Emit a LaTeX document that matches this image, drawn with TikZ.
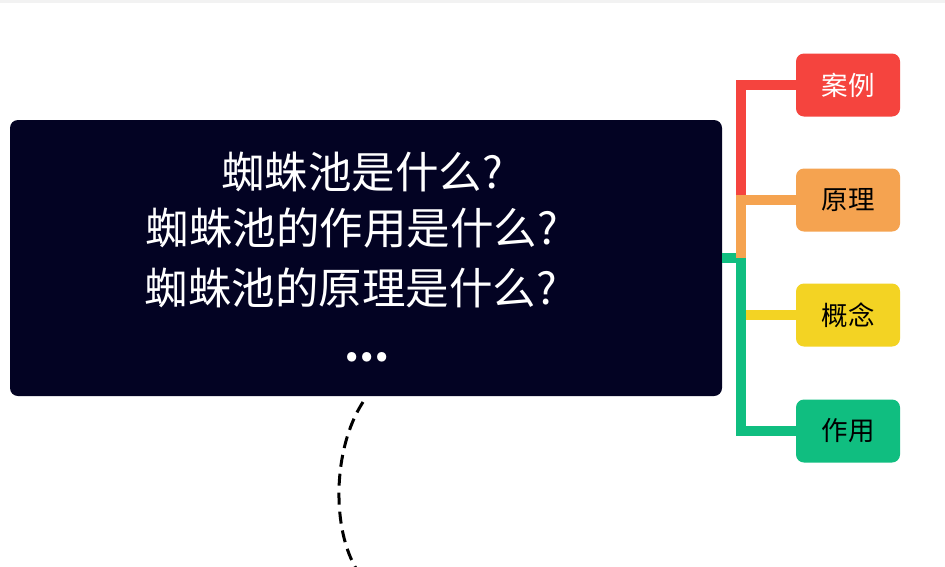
\documentclass[tikz,border=0pt]{standalone}
\usepackage{fontspec}
\setmainfont{Noto Sans CJK SC}
\definecolor{darkbg}{HTML}{030323}
\definecolor{cred}{HTML}{F5443E}
\definecolor{corange}{HTML}{F5A350}
\definecolor{cyellow}{HTML}{F3D323}
\definecolor{cgreen}{HTML}{10BE80}
\definecolor{topgray}{HTML}{F2F2F2}
\begin{document}
\begin{tikzpicture}[x=1pt,y=-1pt,
  leaf/.style={rounded corners=8pt, minimum width=104pt, minimum height=63pt, inner sep=0pt,
    font=\fontsize{26.5}{30}\selectfont},
  qline/.style={anchor=base, text=white, inner sep=0pt, font=\fontsize{43.5}{50}\selectfont},
  branch/.style={line width=10.5pt, line cap=butt, line join=miter}]
\useasboundingbox (0,0) rectangle (945,566);
\fill[white] (0,0) rectangle (945,566);
\fill[topgray] (0,0) rectangle (945,3);
% root box
\node[fill=darkbg, rounded corners=8pt, minimum width=712pt, minimum height=276pt, inner sep=0pt] (root) at (366,258) {};
\node[qline] (l1) at (362,188) {蜘蛛池是什么?};
\node[qline] (l2) at (352,244) {蜘蛛池的作用是什么?};
\node[qline] (l3) at (351,304) {蜘蛛池的原理是什么?};
\node[qline, font=\fontsize{43.5}{50}\selectfont\bfseries] (l4) at (367,361) {...};
% leaves
\node[leaf, fill=cred, text=white] (a) at (848,85) {案例};
\node[leaf, fill=corange, text=black] (b) at (848,200) {原理};
\node[leaf, fill=cyellow, text=black] (c) at (848,315) {概念};
\node[leaf, fill=cgreen, text=black] (d) at (848,431) {作用};
% branches
\coordinate (j) at (741,258);
\draw[branch, cred] (j) |- (a.west);
\draw[branch, cyellow] (j) |- (c.west);
\draw[branch, cgreen] (root.east) -- (j) |- (d.west);
\draw[branch, corange] (j) |- (b.west);
% dashed arc
\coordinate (s) at (363,402);
\coordinate (e) at (357,570);
\draw[line width=3pt, dash pattern=on 12pt off 7pt] (s) .. controls (332,450) and (332,530) .. (e);
\end{tikzpicture}
\end{document}
